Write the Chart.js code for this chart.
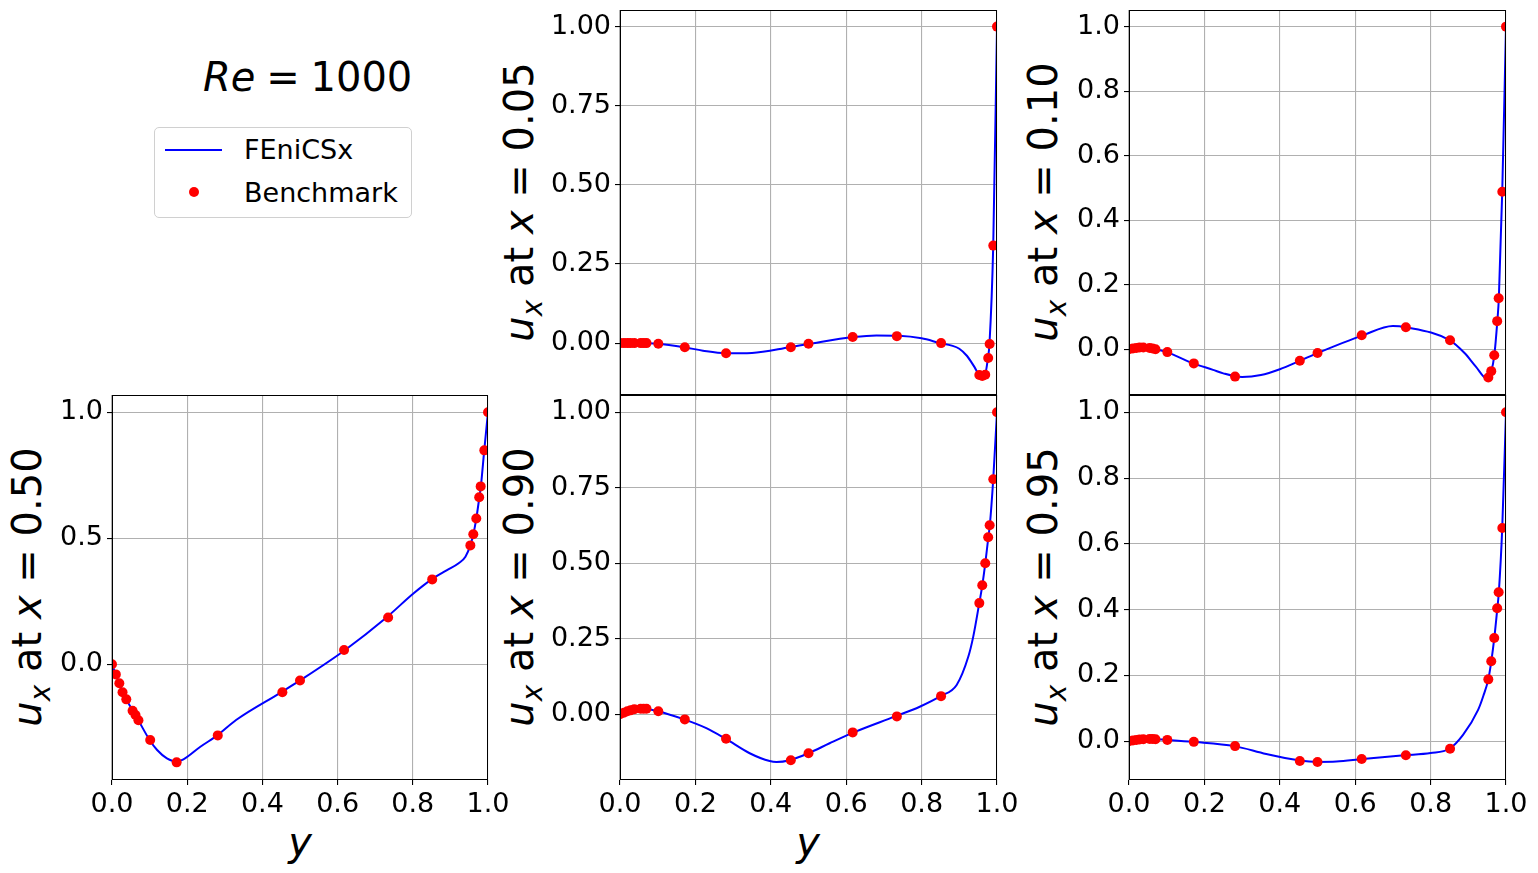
<!DOCTYPE html>
<html>
<head>
<meta charset="utf-8">
<script src="https://cdn.jsdelivr.net/npm/chart.js@4.4.1/dist/chart.umd.min.js"></script>
<style>
  body { margin: 0; background: #fff; width: 1538px; height: 873px; position: relative; overflow: hidden;
         font-family: "DejaVu Sans", sans-serif; color: #000; }
  canvas { position: absolute; }
  .ylab { position: absolute; font-size: 40px; white-space: nowrap; line-height: 1;
          transform: translate(-50%, -50%) rotate(-90deg); }
  .ylab sub { font-size: 70%; vertical-align: -0.3em; }
  .xlab { position: absolute; font-size: 40px; line-height: 1; transform: translate(-50%, -50%); }
  #title { position: absolute; left: 203px; top: 57px; font-size: 40px; line-height: 1; white-space: nowrap; }
  #title .eq { margin: 0 0.27em; }
  #legend { position: absolute; left: 154px; top: 127px; width: 256px; height: 89px;
            border: 1px solid #d0d0d0; border-radius: 5px; font-size: 27px; }
  #legend .row { position: absolute; left: 89px; line-height: 1; white-space: nowrap; }
  #legend .sw { position: absolute; left: 10px; width: 57px; height: 2px; background: #0000ff; }
  #legend .dot { position: absolute; left: 34px; width: 10px; height: 10px; border-radius: 50%; background: #ff0000; }
</style>
</head>
<body>
<div id="title"><i>Re</i><span class="eq">=</span>1000</div>
<div id="legend">
  <div class="sw" style="top:21px"></div>
  <div class="row" style="top:8px">FEniCSx</div>
  <div class="dot" style="top:59px"></div>
  <div class="row" style="top:51px">Benchmark</div>
</div>
<div class="ylab" style="left:523px;top:202px"><i>u</i><sub><i>x</i></sub> at <i>x</i> = 0.05</div>
<div class="ylab" style="left:1047px;top:202px"><i>u</i><sub><i>x</i></sub> at <i>x</i> = 0.10</div>
<div class="ylab" style="left:31px;top:587px"><i>u</i><sub><i>x</i></sub> at <i>x</i> = 0.50</div>
<div class="ylab" style="left:523px;top:587px"><i>u</i><sub><i>x</i></sub> at <i>x</i> = 0.90</div>
<div class="ylab" style="left:1047px;top:587px"><i>u</i><sub><i>x</i></sub> at <i>x</i> = 0.95</div>
<div class="xlab" style="left:300px;top:842px"><i>y</i></div>
<div class="xlab" style="left:808px;top:842px"><i>y</i></div>
<script>
// benchmark sample positions (shared by all five profiles)
const benchY = [0, 0.0102, 0.0195, 0.028, 0.038, 0.0547, 0.0625, 0.0703, 0.1016, 0.1719, 0.2813,
                0.4531, 0.5, 0.6172, 0.7344, 0.8516, 0.9531, 0.9609, 0.9688, 0.9766, 0.9805, 0.9902, 1.0];

const bench005 = [0, 0, 0, 0, 0, 0, 0, 0, -0.002, -0.013, -0.032, -0.013, -0.002, 0.019, 0.022, 0.0,
                  -0.101, -0.104, -0.100, -0.047, -0.003, 0.308, 1.0];
const bench010 = [0, 0.002, 0.004, 0.005, 0.005, 0.004, 0.002, 0.0, -0.009, -0.044, -0.085, -0.036, -0.012,
                  0.043, 0.068, 0.028, -0.088, -0.068, -0.019, 0.087, 0.158, 0.488, 1.0];
const bench050 = [0, -0.040, -0.075, -0.111, -0.139, -0.184, -0.201, -0.222, -0.300, -0.389, -0.282, -0.111,
                  -0.064, 0.057, 0.186, 0.337, 0.472, 0.516, 0.579, 0.663, 0.706, 0.849, 1.0];
const bench090 = [0, 0.005, 0.010, 0.013, 0.017, 0.018, 0.018, 0.018, 0.010, -0.017, -0.081, -0.152, -0.129,
                  -0.060, -0.007, 0.060, 0.368, 0.427, 0.500, 0.586, 0.626, 0.778, 1.0];
const bench095 = [0, 0.002, 0.004, 0.005, 0.006, 0.007, 0.007, 0.006, 0.004, -0.002, -0.015, -0.060, -0.063,
                  -0.054, -0.043, -0.023, 0.188, 0.243, 0.314, 0.404, 0.453, 0.648, 1.0];

// FEniCSx profiles
const fem005Y = [0, 0.05, 0.1, 0.17, 0.22, 0.28, 0.35, 0.45, 0.5, 0.62, 0.68, 0.74, 0.8, 0.85, 0.88, 0.90,
                 0.92, 0.94, 0.956, 0.968, 0.976, 0.98, 0.99, 1.0];
const fem005U = [0, 0, -0.002, -0.013, -0.024, -0.032, -0.031, -0.013, -0.003, 0.019, 0.024, 0.023, 0.015, 0.0,
                 -0.008, -0.018, -0.040, -0.075, -0.104, -0.100, -0.047, -0.003, 0.308, 1.0];

const fem010Y = [0, 0.03, 0.07, 0.1, 0.17, 0.223, 0.25, 0.3, 0.35, 0.40, 0.4531, 0.5, 0.62, 0.70, 0.7344,
                 0.85, 0.89, 0.92, 0.95, 0.961, 0.969, 0.977, 0.981, 0.99, 1.0];
const fem010U = [0, 0.005, 0.0, -0.009, -0.044, -0.064, -0.075, -0.086, -0.080, -0.062, -0.036, -0.012, 0.043,
                 0.072, 0.068, 0.028, -0.012, -0.054, -0.092, -0.068, -0.019, 0.087, 0.158, 0.488, 1.0];

const fem050Y = [0, 0.01, 0.03, 0.055, 0.07, 0.1, 0.12, 0.146, 0.172, 0.19, 0.235, 0.28, 0.33, 0.45, 0.5, 0.62,
                 0.73, 0.8, 0.85, 0.891, 0.922, 0.94, 0.953, 0.961, 0.969, 0.977, 0.981, 0.99, 1.0];
const fem050U = [0, -0.04, -0.115, -0.184, -0.222, -0.30, -0.340, -0.373, -0.386, -0.377, -0.327, -0.282, -0.221,
                 -0.111, -0.064, 0.057, 0.186, 0.279, 0.337, 0.374, 0.401, 0.427, 0.472, 0.516, 0.579, 0.663,
                 0.706, 0.849, 1.0];

const fem090Y = [0, 0.02, 0.04, 0.06, 0.1, 0.17, 0.229, 0.28, 0.344, 0.397, 0.415, 0.45, 0.5, 0.556, 0.62, 0.73,
                 0.795, 0.85, 0.893, 0.924, 0.937, 0.953, 0.961, 0.969, 0.977, 0.981, 0.99, 1.0];
const fem090U = [0, 0.010, 0.016, 0.018, 0.010, -0.017, -0.046, -0.081, -0.129, -0.155, -0.158, -0.152, -0.129,
                 -0.096, -0.060, -0.007, 0.025, 0.060, 0.097, 0.191, 0.257, 0.368, 0.427, 0.500, 0.586, 0.626,
                 0.778, 1.0];

const fem095Y = [0, 0.03, 0.06, 0.1, 0.17, 0.28, 0.364, 0.45, 0.5, 0.55, 0.62, 0.73, 0.8, 0.85, 0.886, 0.926,
                 0.94, 0.953, 0.961, 0.969, 0.977, 0.981, 0.99, 1.0];
const fem095U = [0, 0.005, 0.007, 0.004, -0.002, -0.015, -0.039, -0.058, -0.063, -0.062, -0.054, -0.043, -0.036,
                 -0.023, 0.019, 0.095, 0.138, 0.188, 0.243, 0.314, 0.404, 0.453, 0.648, 1.0];

// ticks
const xTicks = [0, 0.2, 0.4, 0.6, 0.8, 1.0];
const yTicksQuarter = [0, 0.25, 0.5, 0.75, 1.0];
const yTicksFifth = [0, 0.2, 0.4, 0.6, 0.8, 1.0];
const yTicksHalf = [0, 0.5, 1.0];

Chart.defaults.font.family = '"DejaVu Sans", sans-serif';
Chart.defaults.font.size = 27;
Chart.defaults.color = '#000';

const frame = {
  id: 'frame',
  afterDraw(chart) {
    const { ctx, chartArea: a } = chart;
    ctx.save();
    ctx.strokeStyle = '#000';
    ctx.lineWidth = 1;
    ctx.strokeRect(a.left + 0.5, a.top + 0.5, a.right - a.left - 1, a.bottom - a.top - 1);
    ctx.restore();
  }
};

const gridOpts = { color: '#b0b0b0', lineWidth: 1.1, tickColor: '#000', tickLength: 5, tickWidth: 1.1 };

function makePlot(box, lineY, lineU, bench, yMin, yMax, yTicks, digits, showX) {
  const M = { l: 80, t: 30, r: 40, b: 55 };
  const cv = document.createElement('canvas');
  cv.width = box.w + M.l + M.r;
  cv.height = box.h + M.t + M.b;
  cv.style.left = (box.x - M.l) + 'px';
  cv.style.top = (box.y - M.t) + 'px';
  document.body.appendChild(cv);

  new Chart(cv, {
    type: 'scatter',
    data: {
      datasets: [{
        label: 'Benchmark',
        data: benchY.map((y, i) => ({ x: y, y: bench[i] })),
        pointRadius: 5,
        pointBackgroundColor: '#ff0000',
        pointBorderWidth: 0,
        showLine: false,
        order: 0,
        clip: 0
      }, {
        label: 'FEniCSx',
        data: lineY.map((y, i) => ({ x: y, y: lineU[i] })),
        showLine: true,
        borderColor: '#0000ff',
        borderWidth: 2,
        pointRadius: 0,
        cubicInterpolationMode: 'monotone',
        order: 1,
        clip: 0
      }]
    },
    options: {
      responsive: false,
      animation: false,
      layout: { padding: { left: 0, top: M.t, right: M.r, bottom: 0 } },
      plugins: { legend: { display: false }, tooltip: { enabled: false } },
      scales: {
        x: {
          type: 'linear', min: 0, max: 1,
          afterBuildTicks: s => { s.ticks = xTicks.map(v => ({ value: v })); },
          afterFit: s => { s.height = M.b; },
          ticks: { display: showX, callback: v => v.toFixed(1), padding: 4, maxRotation: 0, autoSkip: false },
          grid: gridOpts,
          border: { display: false }
        },
        y: {
          type: 'linear', min: yMin, max: yMax,
          afterBuildTicks: s => { s.ticks = yTicks.map(v => ({ value: v })); },
          afterFit: s => { s.width = M.l; },
          ticks: { callback: v => v.toFixed(digits), padding: 4, autoSkip: false },
          grid: gridOpts,
          border: { display: false }
        }
      }
    },
    plugins: [frame]
  });
}

makePlot({ x: 620, y: 10, w: 377, h: 385 }, fem005Y, fem005U, bench005, -0.164, 1.0525, yTicksQuarter, 2, false);
makePlot({ x: 1129, y: 10, w: 377, h: 385 }, fem010Y, fem010U, bench010, -0.142, 1.0516, yTicksFifth, 1, false);
makePlot({ x: 112, y: 395, w: 376, h: 385 }, fem050Y, fem050U, bench050, -0.459, 1.0687, yTicksHalf, 1, true);
makePlot({ x: 620, y: 395, w: 377, h: 385 }, fem090Y, fem090U, bench090, -0.2176, 1.057, yTicksQuarter, 2, true);
makePlot({ x: 1129, y: 395, w: 377, h: 385 }, fem095Y, fem095U, bench095, -0.118, 1.0526, yTicksFifth, 1, true);
</script>
</body>
</html>
